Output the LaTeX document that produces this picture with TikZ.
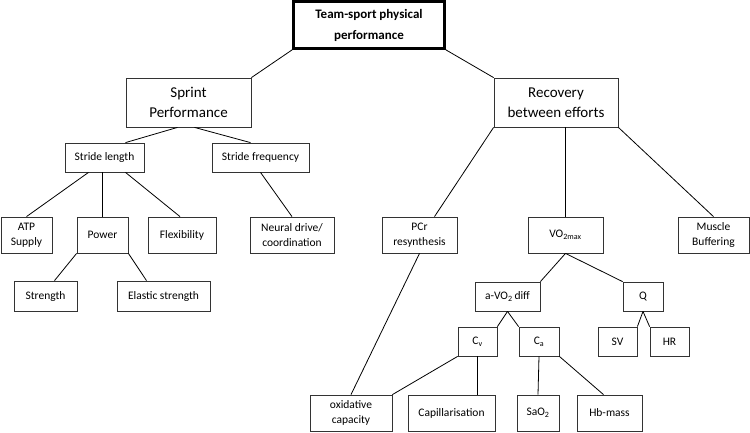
\documentclass[tikz,border=0pt]{standalone}
\usepackage{fontspec}
\setmainfont{Carlito}
\usetikzlibrary{positioning,calc}

\begin{document}
\begin{tikzpicture}[x=1pt, y=-1pt,
    box/.style={draw=black!80, line width=0.8pt, fill=white, align=center, inner sep=1pt, font=\fontsize{11.5}{14.5}\selectfont, minimum height=29pt},
    tall/.style={box, minimum height=36pt},
    mid/.style={box, minimum height=49pt, font=\fontsize{15}{20}\selectfont},
    link/.style={draw=black, line width=0.8pt}]
    \useasboundingbox (0,0) rectangle (750,432);
    \node[draw, line width=2.6pt, align=center, minimum width=151pt, minimum height=47pt, font=\fontsize{13}{21}\selectfont\bfseries] (team) at (369,25) {Team-sport physical\\performance};
    \node[mid, minimum width=125pt] (sprint) at (188.5,102.5) {Sprint\\Performance};
    \node[mid, minimum width=124pt] (recovery) at (556,102.5) {Recovery\\between efforts};
    \node[box, minimum width=79pt] (stridelen) at (104.5,157.5) {Stride length};
    \node[box, minimum width=97pt] (stridefreq) at (260.5,157.5) {Stride frequency};
    \node[tall, minimum width=51pt] (atp) at (26.5,235) {ATP\\Supply};
    \node[tall, minimum width=51pt] (power) at (102.5,235) {Power};
    \node[tall, minimum width=68pt] (flex) at (182,235) {Flexibility};
    \node[tall, minimum width=84pt] (neural) at (292,235) {Neural drive/\\coordination};
    \node[box, minimum width=63pt, minimum height=30pt] (strength) at (45.5,296) {Strength};
    \node[box, minimum width=93pt, minimum height=30pt] (elastic) at (163.5,296) {Elastic strength};
    \node[tall, minimum width=75pt] (pcr) at (419.5,235) {PCr\\resynthesis};
    \node[tall, minimum width=75pt] (vo2) at (565.5,235) {VO\textsubscript{2max}};
    \node[tall, minimum width=71pt] (buffer) at (713.5,235) {Muscle\\Buffering};
    \node[box, minimum width=65pt] (avo2) at (507.5,296.5) {a-VO\textsubscript{2}\,diff};
    \node[box, minimum width=40pt] (cardiac) at (643,296.5) {Q};
    \node[box, minimum width=39pt] (cv) at (477.5,341.5) {C\textsubscript{v}};
    \node[box, minimum width=40pt] (ca) at (539,341.5) {C\textsubscript{a}};
    \node[box, minimum width=39pt] (sv) at (617.5,341.5) {SV};
    \node[box, minimum width=39pt] (hr) at (669.5,341.5) {HR};
    \node[tall, minimum width=82pt] (oxcap) at (351,413) {oxidative\\capacity};
    \node[tall, minimum width=87pt] (capill) at (451.5,413) {Capillarisation};
    \node[tall, minimum width=42pt] (sao2) at (538,413) {SaO\textsubscript{2}};
    \node[tall, minimum width=65pt] (hbmass) at (609.5,413) {Hb-mass};
    % sprint branch
    \draw[link] (team.south west) -- (sprint.north east);
    \draw[link] ([xshift=-11pt]sprint.south) -- ([xshift=21pt]stridelen.north);
    \draw[link] ([xshift=6pt]sprint.south) -- ([xshift=-10pt]stridefreq.north);
    \draw[link] ([xshift=-16pt]stridelen.south) -- (atp.north);
    \draw[link] (power.north) -- (power.north |- stridelen.south);
    \draw[link] ([xshift=21pt]stridelen.south) -- ([xshift=-2pt]flex.north);
    \draw[link] (stridefreq.south) -- (neural.north);
    \draw[link] (power.south west) -- ([xshift=9pt]strength.north);
    \draw[link] (power.south east) -- ([xshift=-17pt]elastic.north);
    % recovery branch
    \draw[link] (team.south east) -- (recovery.north west);
    \draw[link] (recovery.south west) -- ([xshift=15pt]pcr.north);
    \draw[link] (vo2.north) -- (vo2.north |- recovery.south);
    \draw[link] (recovery.south east) -- (buffer.north);
    \draw[link] (pcr.south) -- (oxcap.north);
    \draw[link] (vo2.south) -- (avo2.north east);
    \draw[link] (vo2.south) -- (cardiac.north west);
    \draw[link] (avo2.south) -- (cv.north east);
    \draw[link] (avo2.south) -- (ca.north west);
    \draw[link] (cardiac.south) -- (sv.north east);
    \draw[link] (cardiac.south) -- (hr.north west);
    \draw[link] (cv.south west) -- (oxcap.north east);
    \draw[link] (cv.south) -- (cv.south |- capill.north);
    \draw[link] (ca.south) -- (sao2.north);
    \draw[link] (ca.south east) -- ([xshift=-6pt]hbmass.north);
\end{tikzpicture}
\end{document}
